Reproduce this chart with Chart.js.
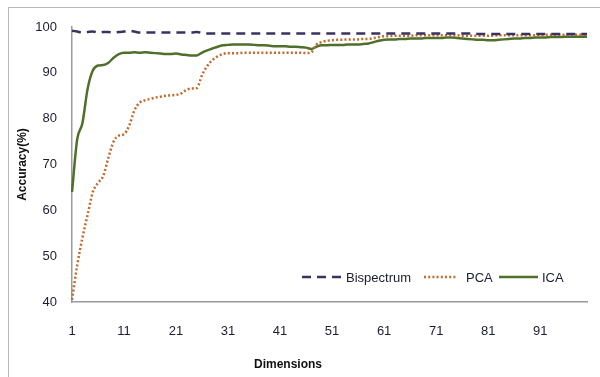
<!DOCTYPE html>
<html>
<head>
<meta charset="utf-8">
<script src="https://cdn.jsdelivr.net/npm/chart.js@4.4.1/dist/chart.umd.min.js"></script>
<style>
  html, body { margin: 0; padding: 0; background: #fff; }
  #wrap { position: relative; width: 600px; height: 377px; overflow: hidden; }
  #frame { position: absolute; left: 8px; top: 7px; width: 700px; height: 500px;
           border-left: 1px solid #b8b8b8; border-top: 1px solid #b8b8b8; }
  canvas { position: absolute; left: 0; top: 0; }
</style>
</head>
<body>
<div id="wrap">
  <div id="frame"></div>
  <canvas id="c" width="600" height="377"></canvas>
</div>
<script>
// ---- Data ----
const dimensions = [1,2,3,4,5,6,7,8,9,10,11,12,13,14,15,16,17,18,19,20,
  21,22,23,24,25,26,27,28,29,30,31,32,33,34,35,36,37,38,39,40,
  41,42,43,44,45,46,47,48,49,50,51,52,53,54,55,56,57,58,59,60,
  61,62,63,64,65,66,67,68,69,70,71,72,73,74,75,76,77,78,79,80,
  81,82,83,84,85,86,87,88,89,90,91,92,93,94,95,96,97,98,99,100];

const bispectrum = [99.2,99.0,98.8,98.9,99.0,98.8,98.9,98.9,98.8,98.9,
  99.0,99.2,99.0,98.8,98.8,98.8,98.8,98.8,98.8,98.8,
  98.8,98.8,98.8,98.8,98.9,98.7,98.6,98.6,98.6,98.6,
  98.6,98.6,98.6,98.6,98.6,98.6,98.6,98.6,98.6,98.6,
  98.6,98.6,98.6,98.6,98.6,98.6,98.6,98.6,98.6,98.6,
  98.6,98.6,98.6,98.6,98.6,98.6,98.6,98.6,98.6,98.6,
  98.6,98.6,98.6,98.6,98.6,98.6,98.6,98.6,98.6,98.6,
  98.6,98.6,98.6,98.6,98.6,98.6,98.6,98.6,98.5,98.5,
  98.5,98.5,98.5,98.5,98.5,98.5,98.5,98.5,98.5,98.5,
  98.5,98.5,98.5,98.5,98.5,98.5,98.5,98.5,98.5,98.5];

const pca = [40.5,48.0,54.0,59.0,64.0,66.0,67.5,71.5,75.0,76.3,
  76.6,78.5,81.8,83.5,84.0,84.3,84.6,84.8,85.0,85.1,
  85.2,85.5,86.3,86.6,86.7,89.5,91.5,92.8,93.6,94.1,
  94.3,94.3,94.3,94.4,94.4,94.4,94.4,94.4,94.4,94.4,
  94.4,94.4,94.4,94.4,94.4,94.3,94.5,96.2,96.7,97.0,
  97.1,97.2,97.2,97.3,97.3,97.3,97.4,97.4,97.6,97.8,
  98.0,98.0,98.1,98.1,98.1,98.1,98.2,98.2,98.2,98.2,
  98.2,98.2,98.2,98.2,98.2,98.1,98.1,98.1,98.1,98.1,
  98.1,98.1,98.2,98.2,98.2,98.2,98.2,98.2,98.2,98.2,
  98.2,98.3,98.3,98.3,98.3,98.3,98.3,98.3,98.3,98.3];

const ica = [64.0,75.5,79.0,86.5,90.5,91.6,91.7,92.2,93.3,94.1,
  94.4,94.4,94.5,94.4,94.5,94.4,94.3,94.2,94.1,94.1,
  94.2,94.0,93.9,93.8,93.8,94.4,94.9,95.3,95.7,96.0,
  96.1,96.2,96.2,96.2,96.2,96.1,96.0,96.0,95.9,95.8,
  95.8,95.8,95.7,95.7,95.6,95.5,95.2,95.7,96.0,96.0,
  96.1,96.1,96.1,96.2,96.2,96.2,96.3,96.4,96.7,97.0,
  97.2,97.3,97.3,97.4,97.4,97.5,97.5,97.5,97.6,97.6,
  97.6,97.6,97.7,97.7,97.6,97.5,97.4,97.3,97.2,97.2,
  97.1,97.1,97.2,97.3,97.4,97.5,97.5,97.6,97.6,97.7,
  97.7,97.7,97.8,97.8,97.8,97.9,97.9,97.9,97.9,97.9];

const seriesNames = ['Bispectrum', 'PCA', 'ICA'];
const yTicks = [40, 50, 60, 70, 80, 90, 100];
const xTitle = 'Dimensions';
const yTitle = 'Accuracy(%)';

// ---- Styles ----
const FONT = "'Liberation Sans', Arial, sans-serif";
const TICK_COLOR = '#1c1c33';

const legendPlugin = {
  id: 'insideLegend',
  afterDraw(chart) {
    const ctx = chart.ctx;
    const y = 277;
    const items = [
      { ds: 0, x0: 302, x1: 342, tx: 346 },
      { ds: 1, x0: 424, x1: 457, tx: 466 },
      { ds: 2, x0: 499, x1: 538, tx: 542 }
    ];
    ctx.save();
    items.forEach(it => {
      const ds = chart.data.datasets[it.ds];
      ctx.beginPath();
      ctx.strokeStyle = ds.borderColor;
      ctx.lineWidth = ds.borderWidth;
      ctx.setLineDash(ds.borderDash || []);
      ctx.moveTo(it.x0, y);
      ctx.lineTo(it.x1, y);
      ctx.stroke();
      ctx.setLineDash([]);
      ctx.fillStyle = TICK_COLOR;
      ctx.font = '13px ' + FONT;
      ctx.textBaseline = 'middle';
      ctx.textAlign = 'left';
      ctx.fillText(ds.label, it.tx, y + 1);
    });
    // x axis title
    ctx.fillStyle = '#111';
    ctx.font = 'bold 12px ' + FONT;
    ctx.textAlign = 'center';
    ctx.textBaseline = 'middle';
    ctx.fillText(xTitle, 288, 365);
    ctx.restore();
  }
};

new Chart(document.getElementById('c'), {
  type: 'line',
  data: {
    labels: dimensions,
    datasets: [
      { label: seriesNames[0], data: bispectrum, borderColor: '#3a3260', borderWidth: 2.5,
        borderDash: [9, 6], pointRadius: 0, fill: false },
      { label: seriesNames[1], data: pca, borderColor: '#c0692a', borderWidth: 2.5,
        borderDash: [2, 2.2], pointRadius: 0, fill: false },
      { label: seriesNames[2], data: ica, borderColor: '#4f6f2a', borderWidth: 2.5,
        pointRadius: 0, fill: false }
    ]
  },
  options: {
    responsive: false,
    animation: false,
    events: [],
    layout: { padding: { left: 0, top: 27, right: 13, bottom: 0 } },
    plugins: { legend: { display: false }, tooltip: { enabled: false } },
    elements: { line: { tension: 0.3, cubicInterpolationMode: 'monotone' } },
    scales: {
      x: {
        type: 'category',
        offset: false,
        grid: { display: false, drawTicks: false },
        border: { display: true, color: '#9a9a9a', width: 1.5 },
        ticks: {
          autoSkip: false, maxRotation: 0, padding: 22,
          color: TICK_COLOR, font: { family: FONT, size: 13 },
          callback: function (v, i) { return i % 10 === 0 ? String(dimensions[i]) : null; }
        },
        afterFit: s => { s.height = 75; }
      },
      y: {
        min: 40, max: 100,
        grid: { display: false, drawTicks: false },
        border: { display: true, color: '#9a9a9a', width: 1.5 },
        afterBuildTicks: s => { s.ticks = yTicks.map(v => ({ value: v })); },
        ticks: { padding: 15, color: TICK_COLOR, font: { family: FONT, size: 13 } },
        title: { display: true, text: yTitle, color: '#111',
                 font: { family: FONT, size: 12, weight: 'bold' }, padding: { top: 15, bottom: 0 } },
        afterFit: s => { s.width = 72; }
      }
    }
  },
  plugins: [legendPlugin]
});
</script>
</body>
</html>
